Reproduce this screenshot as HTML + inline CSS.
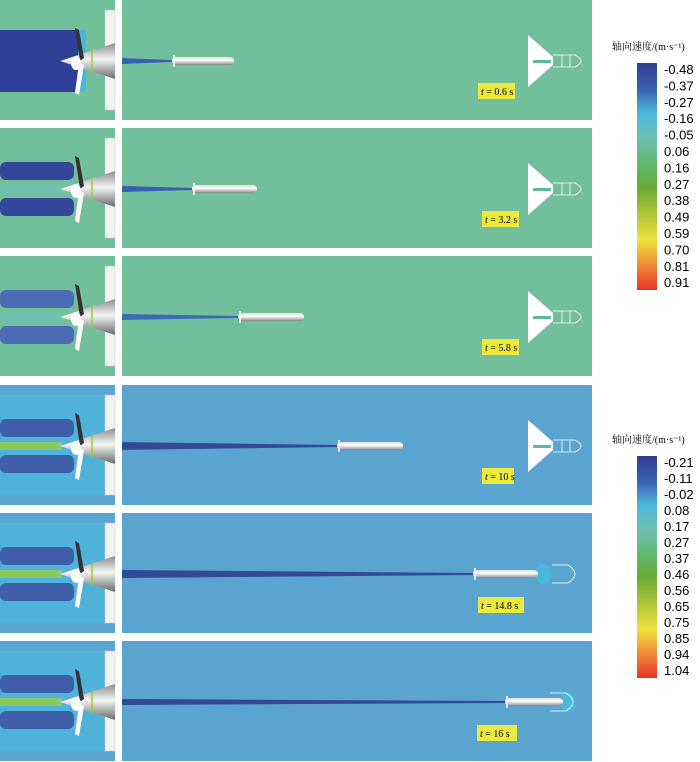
<!DOCTYPE html>
<html><head><meta charset="utf-8"><style>
body{margin:0;background:#fff;width:700px;height:762px;overflow:hidden;font-family:"Liberation Sans",sans-serif}
svg{position:absolute;left:0;top:0}
.lab{font-family:"Liberation Serif",serif;font-size:10px}
.cb{font-family:"Liberation Sans",sans-serif;font-size:13px}
.ttl{font-family:"Liberation Serif","Noto Serif CJK SC",serif;font-size:10px}
</style></head><body>
<svg id="s" width="700" height="762" xmlns="http://www.w3.org/2000/svg">
<defs>
<linearGradient id="cone" x1="0" y1="0" x2="0" y2="1"><stop offset="0" stop-color="#8a8a8a"/><stop offset="0.45" stop-color="#f4f4f4"/><stop offset="1" stop-color="#6a6a6a"/></linearGradient>
<linearGradient id="tor" x1="0" y1="0" x2="0" y2="1"><stop offset="0" stop-color="#ddd"/><stop offset="0.4" stop-color="#fff"/><stop offset="1" stop-color="#888"/></linearGradient>
<linearGradient id="cb1" x1="0" y1="0" x2="0" y2="1">
<stop offset="0" stop-color="#2e3d8f"/><stop offset="0.12" stop-color="#3a64b0"/><stop offset="0.22" stop-color="#4ab8dc"/><stop offset="0.33" stop-color="#6ec0b0"/><stop offset="0.45" stop-color="#5fb86a"/><stop offset="0.55" stop-color="#6aaa32"/><stop offset="0.68" stop-color="#b9c83a"/><stop offset="0.78" stop-color="#ece43c"/><stop offset="0.85" stop-color="#f3a83a"/><stop offset="1" stop-color="#e8352a"/></linearGradient>
</defs>
<g id="g"></g>
<rect x="637" y="63" width="20" height="227" fill="url(#cb1)"/>
<rect x="637" y="456" width="20" height="222" fill="url(#cb1)"/>
<text class="ttl" x="612" y="50">轴向速度/(m·s⁻¹)</text>
<text class="ttl" x="612" y="443">轴向速度/(m·s⁻¹)</text>
<g class="cb">
<text x="664" y="74">-0.48</text><text x="664" y="90.4">-0.37</text><text x="664" y="106.8">-0.27</text><text x="664" y="123.2">-0.16</text><text x="664" y="139.6">-0.05</text><text x="664" y="156">0.06</text><text x="664" y="172.4">0.16</text><text x="664" y="188.8">0.27</text><text x="664" y="205.2">0.38</text><text x="664" y="221.6">0.49</text><text x="664" y="238">0.59</text><text x="664" y="254.4">0.70</text><text x="664" y="270.8">0.81</text><text x="664" y="287.2">0.91</text>
<text x="664" y="467">-0.21</text><text x="664" y="483">-0.11</text><text x="664" y="499">-0.02</text><text x="664" y="515">0.08</text><text x="664" y="531">0.17</text><text x="664" y="547">0.27</text><text x="664" y="563">0.37</text><text x="664" y="579">0.46</text><text x="664" y="595">0.56</text><text x="664" y="611">0.65</text><text x="664" y="627">0.75</text><text x="664" y="643">0.85</text><text x="664" y="659">0.94</text><text x="664" y="675">1.04</text>
</g>
<g class="lab">
<rect x="478" y="83" width="37" height="16" fill="#ecea3c"/><text x="481" y="95"><tspan font-style="italic">t</tspan> = 0.6 s</text>
<rect x="482" y="211" width="37" height="16" fill="#ecea3c"/><text x="485" y="223"><tspan font-style="italic">t</tspan> = 3.2 s</text>
<rect x="482" y="339" width="37" height="16" fill="#ecea3c"/><text x="485" y="351"><tspan font-style="italic">t</tspan> = 5.8 s</text>
<rect x="482" y="468" width="32" height="16" fill="#ecea3c"/><text x="485" y="480"><tspan font-style="italic">t</tspan> = 10 s</text>
<rect x="478" y="597" width="46" height="16" fill="#ecea3c"/><text x="481" y="609"><tspan font-style="italic">t</tspan> = 14.8 s</text>
<rect x="477" y="725" width="40" height="16" fill="#ecea3c"/><text x="480" y="737"><tspan font-style="italic">t</tspan> = 16 s</text>
</g>
</svg>
<script>
var G=document.getElementById('g'),h='';
var rows=[
{y:0,bg:'#72bf9c',jet:'#2f3f95',full:1,tx:172,tl:62,wake:'#3a5fb0',dev:1,w:3},
{y:128,bg:'#72bf9c',jet:'#34479a',full:0,tx:192,tl:65,wake:'#3a5fb0',dev:1,w:3},
{y:256,bg:'#72bf9c',jet:'#4b6cb5',full:0,tx:238,tl:66,wake:'#3a6cb5',dev:1,w:3},
{y:385,bg:'#5aa5d0',jet:'#3f5fab',full:0,tx:337,tl:66,wake:'#34489a',dev:1,w:4},
{y:513,bg:'#5aa5d0',jet:'#3f5fab',full:0,tx:473,tl:65,wake:'#34489a',dev:0,w:4,dx:552},
{y:641,bg:'#5aa5d0',jet:'#3f5fab',full:0,tx:505,tl:58,wake:'#34489a',dev:0,w:3,dx:550}];
rows.forEach(function(r,i){
 var y=r.y,c=y+61;
 h+='<rect x="0" y="'+y+'" width="115" height="120" fill="'+r.bg+'"/>';
 if(i>=3)h+='<rect x="0" y="'+(y+10)+'" width="105" height="100" fill="#4ab8dc" opacity="0.7"/>';
 if(r.full)h+='<rect x="0" y="'+(y+30)+'" width="80" height="62" fill="'+r.jet+'"/><rect x="78" y="'+(y+30)+'" width="8" height="62" fill="#4ab8dc"/>';
 else h+='<rect x="0" y="'+(y+34)+'" width="74" height="18" rx="6" fill="'+r.jet+'"/><rect x="0" y="'+(y+70)+'" width="74" height="18" rx="6" fill="'+r.jet+'"/><rect x="0" y="'+(y+57)+'" width="62" height="8" fill="'+(i>=3?'#8cc860':'#6ec0b0')+'"/>';
 h+='<rect x="105" y="'+(y+10)+'" width="10" height="100" fill="#f2f2f2" stroke="#ccc" stroke-width="0.5"/>';
 h+='<polygon points="60,'+c+' 115,'+(c-18)+' 115,'+(c+18)+'" fill="url(#cone)"/>';
 h+='<line x1="92" y1="'+(c-11)+'" x2="92" y2="'+(c+11)+'" stroke="#9c3" stroke-width="1.5"/>';
 h+='<polygon points="75,'+(y+28)+' 79,'+(y+30)+' 84,'+(c-3)+' 80,'+c+'" fill="#333"/>';
 h+='<polygon points="79,'+(c+2)+' 84,'+(c+4)+' 79,'+(y+95)+' 75,'+(y+93)+'" fill="#fff"/>';
 h+='<ellipse cx="76" cy="'+(c+2)+'" rx="5" ry="7" fill="#fff"/>';
 h+='<rect x="122" y="'+y+'" width="470" height="120" fill="'+r.bg+'"/>';
 h+='<polygon points="122,'+(c-r.w)+' '+r.tx+','+(c-1)+' '+r.tx+','+(c+1)+' 122,'+(c+r.w)+'" fill="'+r.wake+'"/>';
 if(!r.dev){var e=r.tx+r.tl;h+='<ellipse cx="'+(e+5)+'" cy="'+c+'" rx="8" ry="10" fill="#4ab8dc"/><path d="M'+r.dx+' '+(c-9)+' H'+(r.dx+16)+' Q'+(r.dx+30)+' '+c+' '+(r.dx+16)+' '+(c+9)+' H'+r.dx+'" fill="none" stroke="#fff" stroke-width="0.8"/>';}
 h+='<rect x="'+r.tx+'" y="'+(c-4)+'" width="'+r.tl+'" height="8" rx="4" fill="url(#tor)"/>';
 h+='<line x1="'+(r.tx+2)+'" y1="'+(c-6)+'" x2="'+(r.tx+2)+'" y2="'+(c+6)+'" stroke="#fff" stroke-width="1.5"/>';
 if(r.dev){h+='<polygon points="528,'+(c-26)+' 553,'+(c-4)+' 553,'+(c+4)+' 528,'+(c+26)+'" fill="#fff"/>';
  h+='<path d="M553 '+(c-6)+' H575 Q587 '+c+' 575 '+(c+6)+' H553 M562 '+(c-6)+' V'+(c+6)+' M570 '+(c-6)+' V'+(c+6)+'" fill="none" stroke="#fff" stroke-width="0.8"/>';
  h+='<rect x="533" y="'+(c-1)+'" width="18" height="3" fill="#5fb8a0"/>';}
});
G.innerHTML=h;
</script>
</body></html>
